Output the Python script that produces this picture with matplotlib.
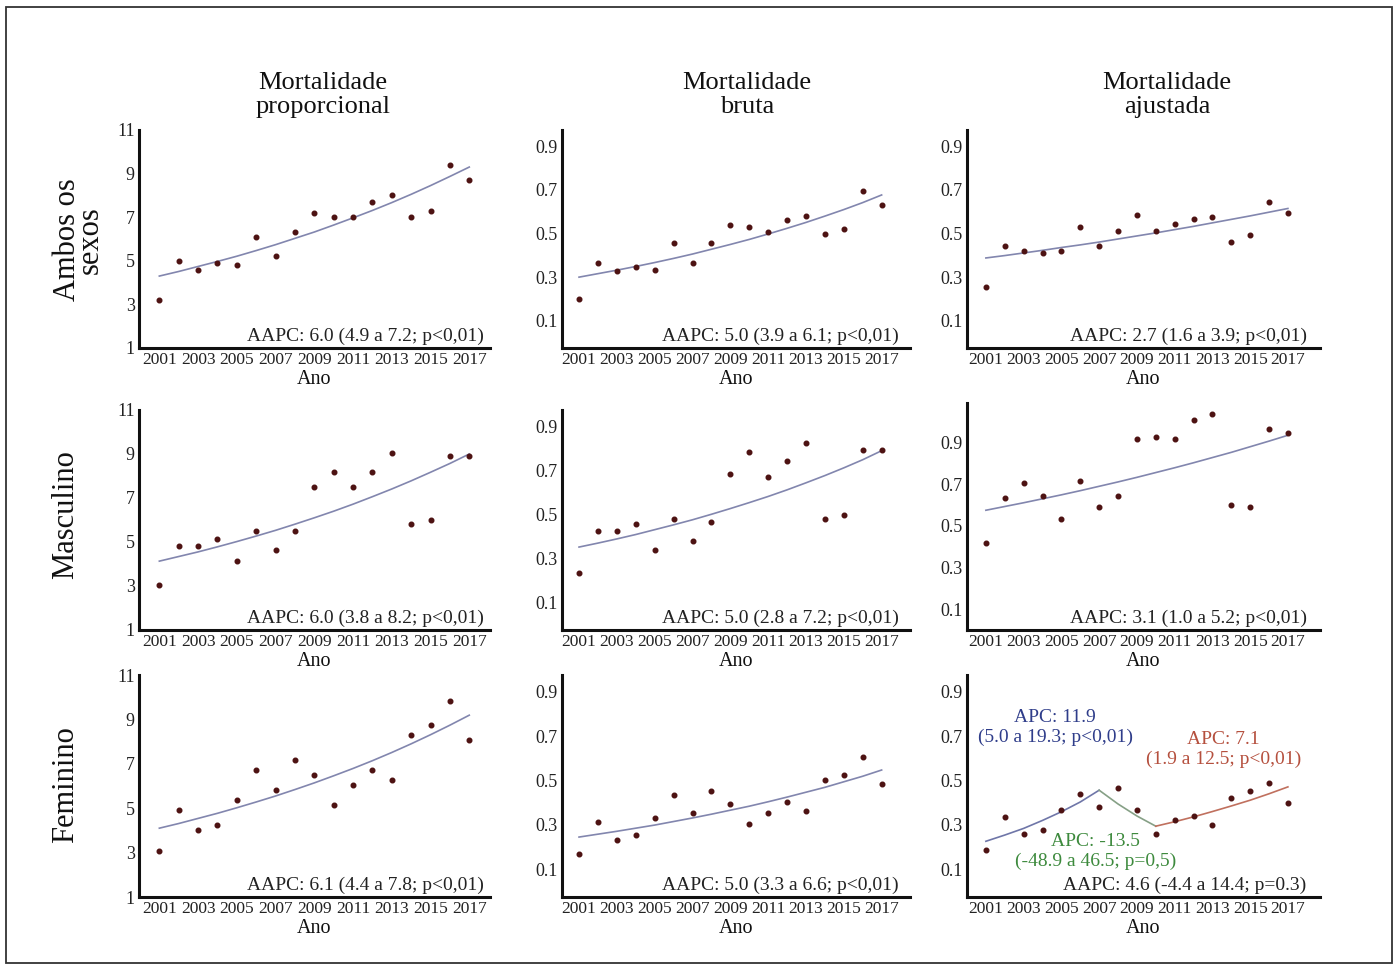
import matplotlib.pyplot as plt
from matplotlib.patches import Rectangle

plt.rcParams['font.family'] = ['Liberation Serif', 'DejaVu Serif']

anos = list(range(2001, 2018))
anos_ticks = [2001, 2003, 2005, 2007, 2009, 2011, 2013, 2015, 2017]

colunas = ["Mortalidade\nproporcional", "Mortalidade\nbruta", "Mortalidade\najustada"]
linhas = ["Ambos os\nsexos", "Masculino", "Feminino"]

prop_ambos = [3.2, 5.0, 4.6, 4.9, 4.8, 6.1, 5.2, 6.3, 7.2, 7.0, 7.0, 7.7, 8.0, 7.0, 7.3, 9.4, 8.7]
bruta_ambos = [0.20, 0.366, 0.326, 0.346, 0.335, 0.458, 0.366, 0.458, 0.54, 0.528, 0.509,
               0.562, 0.582, 0.498, 0.52, 0.694, 0.632]
ajust_ambos = [0.257, 0.442, 0.42, 0.411, 0.42, 0.532, 0.442, 0.512, 0.585, 0.512, 0.543,
               0.565, 0.574, 0.462, 0.492, 0.645, 0.594]

prop_masc = [3.05, 4.8, 4.8, 5.15, 4.13, 5.49, 4.63, 5.49, 7.52, 8.2, 7.52, 8.2, 9.05, 5.82, 6.0, 8.9, 8.9]
bruta_masc = [0.236, 0.427, 0.427, 0.459, 0.337, 0.479, 0.378, 0.468, 0.682, 0.784, 0.671,
              0.743, 0.824, 0.479, 0.5, 0.793, 0.793]
ajust_masc = [0.42, 0.633, 0.705, 0.642, 0.532, 0.714, 0.593, 0.642, 0.916, 0.927, 0.916,
              1.006, 1.038, 0.602, 0.593, 0.967, 0.946]

prop_fem = [3.05, 4.93, 4.01, 4.26, 5.35, 6.72, 5.81, 7.16, 6.48, 5.14, 6.04, 6.71, 6.27, 8.29, 8.75, 9.84, 8.06]
bruta_fem = [0.17, 0.311, 0.232, 0.253, 0.332, 0.433, 0.352, 0.453, 0.392, 0.302, 0.352,
             0.403, 0.362, 0.503, 0.523, 0.605, 0.483]
ajust_fem = [0.188, 0.336, 0.258, 0.277, 0.368, 0.441, 0.379, 0.468, 0.368, 0.258, 0.32,
             0.339, 0.30, 0.421, 0.452, 0.489, 0.40]

# curvas ajustadas
fit_prop_ambos = [4.30, 4.51, 4.74, 4.97, 5.21, 5.47, 5.74, 6.03, 6.32, 6.64, 6.97, 7.31, 7.67, 8.05, 8.45, 8.87, 9.30]
fit_bruta_ambos = [0.300, 0.316, 0.332, 0.349, 0.367, 0.386, 0.406, 0.428, 0.450, 0.473, 0.498,
                   0.524, 0.551, 0.580, 0.610, 0.642, 0.677]
fit_ajust_ambos = [0.388, 0.399, 0.411, 0.423, 0.436, 0.448, 0.461, 0.475, 0.489, 0.503, 0.518,
                   0.533, 0.549, 0.565, 0.581, 0.598, 0.615]
fit_prop_masc = [4.13, 4.34, 4.55, 4.78, 5.02, 5.27, 5.53, 5.81, 6.10, 6.40, 6.72, 7.06, 7.41, 7.78, 8.17, 8.57, 9.00]
fit_bruta_masc = [0.352, 0.370, 0.389, 0.409, 0.431, 0.453, 0.476, 0.501, 0.527, 0.554, 0.582,
                  0.612, 0.644, 0.677, 0.712, 0.749, 0.790]
fit_ajust_masc = [0.575, 0.593, 0.611, 0.630, 0.649, 0.669, 0.690, 0.711, 0.733, 0.756, 0.779,
                  0.803, 0.828, 0.853, 0.880, 0.907, 0.935]
fit_prop_fem = [4.10, 4.31, 4.54, 4.77, 5.02, 5.28, 5.55, 5.84, 6.14, 6.46, 6.79, 7.14, 7.51, 7.90, 8.31, 8.74, 9.19]
fit_bruta_fem = [0.245, 0.258, 0.271, 0.285, 0.299, 0.315, 0.331, 0.348, 0.366, 0.384, 0.404,
                 0.425, 0.447, 0.469, 0.494, 0.519, 0.547]

# joinpoint - feminino ajustada
seg1_anos = [2001, 2002, 2003, 2004, 2005, 2006, 2007]
seg1_fit = [0.226, 0.254, 0.284, 0.320, 0.359, 0.403, 0.456]
seg2_anos = [2007, 2008, 2009, 2010]
seg2_fit = [0.456, 0.394, 0.340, 0.294]
seg3_anos = [2010, 2011, 2012, 2013, 2014, 2015, 2016, 2017]
seg3_fit = [0.294, 0.314, 0.336, 0.360, 0.385, 0.411, 0.440, 0.471]

aapc = [
    ["AAPC: 6.0 (4.9 a 7.2; p<0,01)", "AAPC: 5.0 (3.9 a 6.1; p<0,01)", "AAPC: 2.7 (1.6 a 3.9; p<0,01)"],
    ["AAPC: 6.0 (3.8 a 8.2; p<0,01)", "AAPC: 5.0 (2.8 a 7.2; p<0,01)", "AAPC: 3.1 (1.0 a 5.2; p<0,01)"],
    ["AAPC: 6.1 (4.4 a 7.8; p<0,01)", "AAPC: 5.0 (3.3 a 6.6; p<0,01)", "AAPC: 4.6 (-4.4 a 14.4; p=0.3)"],
]

pontos = [[prop_ambos, bruta_ambos, ajust_ambos],
          [prop_masc, bruta_masc, ajust_masc],
          [prop_fem, bruta_fem, ajust_fem]]
ajustes = [[fit_prop_ambos, fit_bruta_ambos, fit_ajust_ambos],
           [fit_prop_masc, fit_bruta_masc, fit_ajust_masc],
           [fit_prop_fem, fit_bruta_fem, None]]

yticks_prop = [1, 3, 5, 7, 9, 11]
yticks_taxa = [0.1, 0.3, 0.5, 0.7, 0.9]

W, H = 1397, 969
fig = plt.figure(figsize=(W / 100, H / 100), dpi=100)

# moldura
fig.patches.append(Rectangle((6 / W, 1 - 963 / H), (1392 - 6) / W, (963 - 7) / H,
                             transform=fig.transFigure, fill=False,
                             edgecolor='#333333', lw=1.3))

# posicoes em pixels
col_px = [(139, 490), (562, 910), (967, 1320)]
lin_px = [(130, 348), (410, 630), (675, 897)]
xlims = [(1999.95, 2018.07), (2000.1, 2018.5), (2000.0, 2018.7)]
aapc_x = [0.983, 0.968, 0.962]

cor_ponto = '#4d1212'
cor_ajuste = '#8286ae'

for i in range(3):
    for j in range(3):
        l, r = col_px[j]
        t, b = lin_px[i]
        if i == 1 and j == 2:
            t = 403  # eixo um pouco mais alto nesse painel
        ax = fig.add_axes([l / W, 1 - b / H, (r - l) / W, (b - t) / H])

        if ajustes[i][j] is not None:
            ax.plot(anos, ajustes[i][j], color=cor_ajuste, lw=1.2, zorder=2)
        else:
            ax.plot(seg1_anos, seg1_fit, color='#6f76a8', lw=1.2, zorder=2)
            ax.plot(seg2_anos, seg2_fit, color='#86a086', lw=1.2, zorder=2)
            ax.plot(seg3_anos, seg3_fit, color='#c0705e', lw=1.2, zorder=2)
        ax.scatter(anos, pontos[i][j], s=11, color=cor_ponto, zorder=3)

        ax.set_xlim(*xlims[j])
        ax.set_xticks(anos_ticks)
        ax.set_xticklabels([str(a) for a in anos_ticks], fontsize=12.5)

        if j == 0:
            ax.set_ylim(1, 11)
            ax.set_yticks(yticks_prop)
            ax.set_yticklabels([str(v) for v in yticks_prop], fontsize=13)
        else:
            if i == 1 and j == 2:
                ax.set_ylim(0.0, 1.09)
            else:
                ax.set_ylim(-0.025, 0.975)
            ax.set_yticks(yticks_taxa)
            ax.set_yticklabels([str(v) for v in yticks_taxa], fontsize=13)

        ax.tick_params(length=0, pad=3, colors='#222222')
        for s in ['top', 'right']:
            ax.spines[s].set_visible(False)
        for s in ['left', 'bottom']:
            ax.spines[s].set_linewidth(2.2)
            ax.spines[s].set_color('#111111')

        ax.set_xlabel("Ano", fontsize=14.5, labelpad=1, color='#111111')
        ax.text(aapc_x[j], 0.012, aapc[i][j], transform=ax.transAxes,
                ha='right', va='bottom', fontsize=14, color='#222222')

        if i == 2 and j == 2:
            ax.text(2004.67, 0.74, "APC: 11.9\n(5.0 a 19.3; p<0,01)", ha='center', va='center',
                    fontsize=14, color='#2f3d8a')
            ax.text(2013.6, 0.64, "APC: 7.1\n(1.9 a 12.5; p<0,01)", ha='center', va='center',
                    fontsize=14, color='#b5503e')
            ax.text(2006.8, 0.178, "APC: -13.5\n(-48.9 a 46.5; p=0,5)", ha='center', va='center',
                    fontsize=14, color='#3d8a3d')

# titulos das colunas
col_tit_x = [323, 747, 1167]
for j in range(3):
    fig.text(col_tit_x[j] / W, 1 - 95 / H, colunas[j], ha='center', va='center',
             fontsize=19, linespacing=1.1, color='#111111')

# titulos das linhas
lin_tit = [(79, 240), (66, 515), (66, 785)]
for i in range(3):
    x, y = lin_tit[i]
    fig.text(x / W, 1 - y / H, linhas[i], ha='center', va='center', rotation=90,
             fontsize=22, linespacing=0.72, color='#111111')

fig.savefig("out.png", dpi=100)
